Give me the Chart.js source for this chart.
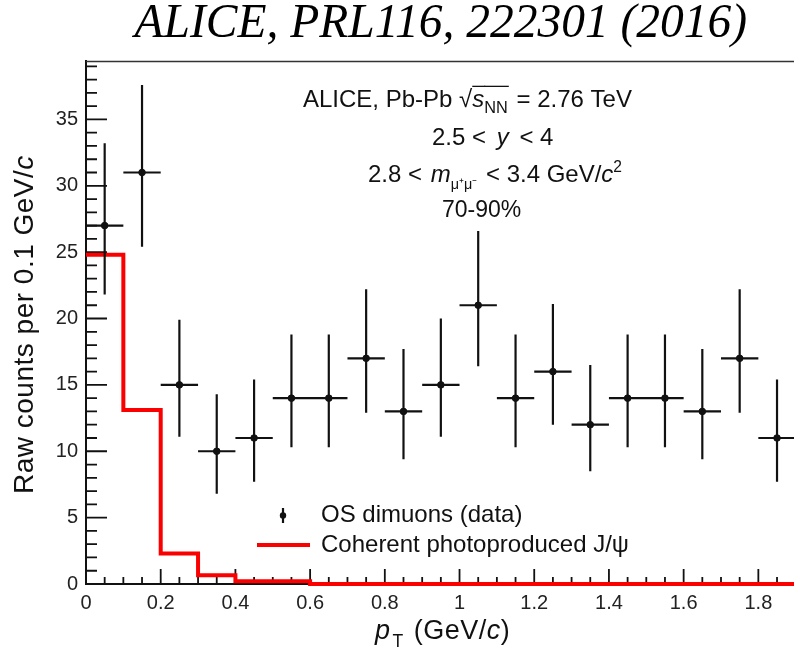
<!DOCTYPE html>
<html>
<head>
<meta charset="utf-8">
<title>J/psi pT, 70-90%</title>
<script src="https://cdn.jsdelivr.net/npm/chart.js@4.4.1/dist/chart.umd.min.js"></script>
<style>
  html, body { margin: 0; padding: 0; background: #fff; overflow: hidden; }
  #wrap { width: 794px; height: 650px; overflow: hidden; }
</style>
</head>
<body>
<div id="wrap"><canvas id="ptChart" width="800" height="650"></canvas></div>
<script>
// bin centres (GeV/c) and raw counts, OS dimuons
var binCenters = [0.05, 0.15, 0.25, 0.35, 0.45, 0.55, 0.65, 0.75, 0.85, 0.95, 1.05, 1.15, 1.25, 1.35, 1.45, 1.55, 1.65, 1.75, 1.85];
var counts     = [27, 31, 15, 10, 11, 14, 14, 17, 13, 15, 21, 14, 16, 12, 14, 14, 13, 17, 11];
var errUp      = [6.2, 6.6, 4.9, 4.3, 4.4, 4.8, 4.8, 5.2, 4.7, 5.0, 5.6, 4.8, 5.1, 4.5, 4.8, 4.8, 4.7, 5.2, 4.4];
var errDown    = [5.2, 5.6, 3.9, 3.2, 3.3, 3.7, 3.7, 4.1, 3.6, 3.9, 4.6, 3.7, 4.0, 3.5, 3.7, 3.7, 3.6, 4.1, 3.3];
var binHalfWidth = 0.05;

// coherent photoproduced J/psi template, per bin (lower edges)
var binEdges   = [0, 0.1, 0.2, 0.3, 0.4, 0.5, 0.6, 0.7, 0.8, 0.9, 1.0, 1.1, 1.2, 1.3, 1.4, 1.5, 1.6, 1.7, 1.8, 1.9];
var coherent   = [24.8, 13.1, 2.3, 0.65, 0.2, 0.2, 0, 0, 0, 0, 0, 0, 0, 0, 0, 0, 0, 0, 0];

var xTickValues = [0, 0.2, 0.4, 0.6, 0.8, 1.0, 1.2, 1.4, 1.6, 1.8];
var xTickLabels = ['0', '0.2', '0.4', '0.6', '0.8', '1', '1.2', '1.4', '1.6', '1.8'];
var yTickValues = [0, 5, 10, 15, 20, 25, 30, 35];
var yTickLabels = ['0', '5', '10', '15', '20', '25', '30', '35'];

var FONT = '"Liberation Sans", Arial, Helvetica, sans-serif';
var INK = '#111';

// step histogram points
var stepData = binEdges.map(function (e, i) {
  return { x: e, y: i < coherent.length ? coherent[i] : coherent[coherent.length - 1] };
});

// data points
var pointData = binCenters.map(function (x, i) { return { x: x, y: counts[i] }; });

// error bars as broken line segments (null y breaks the line)
var errData = [];
binCenters.forEach(function (x, i) {
  errData.push({ x: x - binHalfWidth, y: counts[i] });
  errData.push({ x: x + binHalfWidth, y: counts[i] });
  errData.push({ x: x, y: null });
  errData.push({ x: x, y: counts[i] - errDown[i] });
  errData.push({ x: x, y: counts[i] + errUp[i] });
  errData.push({ x: x, y: null });
});

function richText(ctx, x, y, parts, size) {
  var cx = x;
  parts.forEach(function (p) {
    var s = size * (p.scale || 1);
    ctx.font = (p.italic ? 'italic ' : '') + s + 'px ' + FONT;
    ctx.fillText(p.t, cx, y + (p.dy || 0) * size);
    var w = ctx.measureText(p.t).width;
    if (p.over) {
      ctx.save();
      ctx.lineWidth = 1.3;
      ctx.beginPath();
      ctx.moveTo(cx, y - size * 0.86);
      ctx.lineTo(cx + w + 1, y - size * 0.86);
      ctx.stroke();
      ctx.restore();
    }
    cx += w + (p.gap || 0);
  });
  return cx - x;
}

var decorPlugin = {
  id: 'decor',
  beforeDatasetsDraw: function (chart) {
    var ctx = chart.ctx, a = chart.chartArea;
    var xs = chart.scales.x, ys = chart.scales.y;
    ctx.save();
    ctx.strokeStyle = INK;
    ctx.lineWidth = 1.8;
    ctx.beginPath();
    // inward ticks on y: major every 5, minor every 1
    for (var v = 1; v <= 39; v++) {
      var py = ys.getPixelForValue(v);
      var len = (v % 5 === 0) ? 21 : 11;
      ctx.moveTo(a.left, py);
      ctx.lineTo(a.left + len, py);
    }
    // inward ticks on x: major every 0.2, minor every 0.05
    for (var k = 1; k <= 38; k++) {
      var px = xs.getPixelForValue(k * 0.05);
      var l2 = (k % 4 === 0) ? 15 : 7;
      ctx.moveTo(px, a.bottom);
      ctx.lineTo(px, a.bottom - l2);
    }
    ctx.stroke();
    // top frame
    ctx.lineWidth = 1.5;
    ctx.strokeStyle = '#333';
    ctx.beginPath();
    ctx.moveTo(a.left, a.top + 0.5);
    ctx.lineTo(a.right, a.top + 0.5);
    ctx.stroke();
    ctx.restore();
  },
  afterDatasetsDraw: function (chart) {
    var ctx = chart.ctx;
    ctx.save();
    ctx.fillStyle = '#111';
    ctx.strokeStyle = '#111';
    ctx.textAlign = 'left';
    ctx.textBaseline = 'alphabetic';

    // collision system and cuts
    var fs = 24;
    var w0 = richText(ctx, 303, 107, [{ t: 'ALICE, Pb-Pb ' }, { t: '\u221A' }], fs);
    richText(ctx, 303 + w0, 107, [
      { t: 's', italic: true, over: true },
      { t: 'NN', scale: 0.68, dy: 0.25, over: true, gap: 2 },
      { t: ' = 2.76 TeV' }
    ], fs);
    richText(ctx, 432, 145, [{ t: '2.5 < ', gap: 4 }, { t: 'y', italic: true, gap: 4 }, { t: ' < 4' }], fs);
    richText(ctx, 368, 182, [
      { t: '2.8 < ', gap: 2 }, { t: 'm', italic: true },
      { t: '\u03BC\u207A\u03BC\u207B', scale: 0.6, dy: 0.28, gap: 2 },
      { t: ' < 3.4 GeV/' }, { t: 'c', italic: true }, { t: '2', scale: 0.65, dy: -0.4 }
    ], fs);
    richText(ctx, 442, 217, [{ t: '70-90%' }], 23);

    // legend
    var ds = chart.data.datasets;
    ctx.lineWidth = 2.2;
    ctx.beginPath();
    ctx.moveTo(283, 508);
    ctx.lineTo(283, 523);
    ctx.stroke();
    ctx.beginPath();
    ctx.arc(283, 515.5, 3.2, 0, Math.PI * 2);
    ctx.fill();
    ctx.strokeStyle = ds[2].borderColor;
    ctx.lineWidth = 4;
    ctx.beginPath();
    ctx.moveTo(257, 545);
    ctx.lineTo(310, 545);
    ctx.stroke();
    ctx.font = '24px ' + FONT;
    ctx.textBaseline = 'middle';
    ctx.fillText(ds[0].label, 321, 515);
    ctx.fillText(ds[2].label, 321, 545);

    // axis titles
    ctx.textBaseline = 'alphabetic';
    ctx.letterSpacing = '0.5px';
    richText(ctx, 375, 639, [
      { t: 'p', italic: true, gap: 2 }, { t: 'T', scale: 0.65, dy: 0.3, gap: 2 },
      { t: ' (GeV/' }, { t: 'c', italic: true }, { t: ')' }
    ], 27);
    ctx.translate(33, 494);
    ctx.rotate(-Math.PI / 2);
    richText(ctx, 0, 0, [{ t: 'Raw counts per 0.1 GeV/' }, { t: 'c', italic: true }], 28);
    ctx.restore();
  }
};

var ctx = document.getElementById('ptChart').getContext('2d');
var ptChart = new Chart(ctx, {
  type: 'line',
  data: {
    datasets: [{
      type: 'scatter',
      label: 'OS dimuons (data)',
      data: pointData,
      backgroundColor: INK,
      borderColor: INK,
      pointRadius: 3.3,
      pointHoverRadius: 3.3,
      showLine: false,
      order: 0
    }, {
      type: 'line',
      label: 'errors',
      data: errData,
      borderColor: INK,
      borderWidth: 2.2,
      pointRadius: 0,
      spanGaps: false,
      tension: 0,
      order: 1
    }, {
      type: 'line',
      label: 'Coherent photoproduced J/\u03C8',
      data: stepData,
      borderColor: 'rgb(250,0,0)',
      borderWidth: 4,
      pointRadius: 0,
      stepped: 'before',
      fill: false,
      clip: false,
      order: 2
    }]
  },
  options: {
    responsive: false,
    animation: false,
    events: [],
    layout: { padding: { left: 0, right: 0, top: 0, bottom: 0 } },
    plugins: {
      legend: { display: false },
      tooltip: { enabled: false },
      title: {
        display: true,
        text: 'ALICE, PRL116, 222301 (2016)',
        color: '#000',
        fullSize: false,
        font: { family: '"Liberation Serif", "Times New Roman", serif', style: 'italic', size: 47.5, weight: 'normal', lineHeight: 0.9 },
        padding: { top: 3, bottom: 15.25 }
      }
    },
    scales: {
      x: {
        type: 'linear',
        min: 0,
        max: 1.9,
        grid: { display: false, drawTicks: false },
        border: { display: true, color: INK, width: 2 },
        afterBuildTicks: function (scale) {
          scale.ticks = xTickValues.map(function (v) { return { value: v }; });
        },
        afterFit: function (scale) { scale.height = 66; },
        ticks: {
          autoSkip: false,
          maxRotation: 0,
          padding: 7,
          color: '#222',
          font: { family: FONT, size: 20 },
          callback: function (v, i) { return xTickLabels[i]; }
        }
      },
      y: {
        type: 'linear',
        min: 0,
        max: 39.4,
        grid: { display: false, drawTicks: false },
        border: { display: true, color: INK, width: 2 },
        afterBuildTicks: function (scale) {
          scale.ticks = yTickValues.map(function (v) { return { value: v }; });
        },
        afterFit: function (scale) { scale.width = 86; },
        ticks: {
          autoSkip: false,
          padding: 8,
          color: '#222',
          font: { family: FONT, size: 20 },
          callback: function (v, i) { return yTickLabels[i]; }
        }
      }
    }
  },
  plugins: [decorPlugin]
});
</script>
</body>
</html>
